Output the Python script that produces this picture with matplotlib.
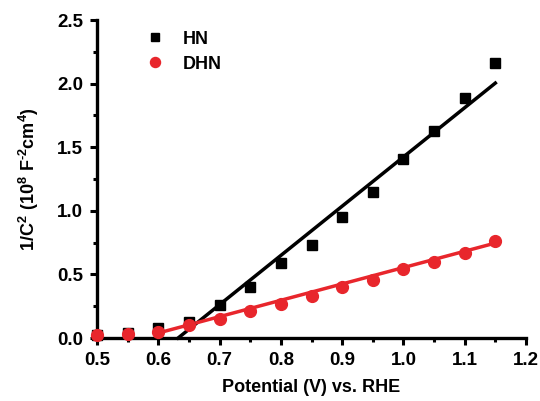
import numpy as np
import matplotlib.pyplot as plt
from matplotlib.ticker import MultipleLocator

plt.rcParams['font.family'] = ['Liberation Sans', 'DejaVu Sans']
plt.rcParams['font.weight'] = 'bold'
plt.rcParams['mathtext.fontset'] = 'custom'
plt.rcParams['mathtext.rm'] = 'Liberation Sans:bold'
plt.rcParams['mathtext.it'] = 'Liberation Sans:bold'
plt.rcParams['mathtext.bf'] = 'Liberation Sans:bold'

potential = [0.50, 0.55, 0.60, 0.65, 0.70, 0.75, 0.80, 0.85, 0.90, 0.95, 1.00, 1.05, 1.10, 1.15]
hn = [0.02, 0.04, 0.08, 0.13, 0.26, 0.40, 0.59, 0.73, 0.95, 1.15, 1.41, 1.63, 1.89, 2.16]
dhn = [0.02, 0.03, 0.05, 0.10, 0.15, 0.21, 0.27, 0.33, 0.40, 0.46, 0.54, 0.60, 0.67, 0.76]

# linear fits (slope, intercept) and the potential range each is drawn over
hn_fit = (3.87, -2.446)
hn_fit_range = [0.632, 1.15]
dhn_fit = (1.285, -0.731)
dhn_fit_range = [0.60, 1.15]

red = '#e8262c'

fig = plt.figure(figsize=(5.4, 4.01), dpi=100)
ax = fig.add_axes([0.18, 0.157, 0.794, 0.793])

xs1 = np.array(hn_fit_range)
ax.plot(xs1, np.polyval(hn_fit, xs1), color='black', lw=2.5, zorder=2, clip_on=False)
xs2 = np.array(dhn_fit_range)
ax.plot(xs2, np.polyval(dhn_fit, xs2), color=red, lw=2.5, zorder=2, clip_on=False)

ax.plot(potential, hn, 's', color='black', ms=7, label='HN', zorder=3, clip_on=False)
ax.plot(potential, dhn, 'o', color=red, ms=8.5, label='DHN', zorder=3, clip_on=False)

ax.set_xlim(0.5, 1.2)
ax.set_ylim(0.0, 2.5)
ax.xaxis.set_major_locator(MultipleLocator(0.1))
ax.xaxis.set_minor_locator(MultipleLocator(0.05))
ax.yaxis.set_major_locator(MultipleLocator(0.5))
ax.yaxis.set_minor_locator(MultipleLocator(0.25))
ax.xaxis.set_major_formatter(plt.FormatStrFormatter('%.1f'))
ax.yaxis.set_major_formatter(plt.FormatStrFormatter('%.1f'))

for s in ['top', 'right']:
    ax.spines[s].set_visible(False)
for s in ['left', 'bottom']:
    ax.spines[s].set_linewidth(2.4)
ax.tick_params(which='major', direction='out', length=5, width=2.2, labelsize=13.5, pad=5)
ax.tick_params(which='minor', direction='out', length=3, width=2.2)

ax.set_xlabel('Potential (V) vs. RHE', fontsize=13, fontweight='bold', labelpad=7)
ax.set_ylabel(r'$\mathbf{1/C^2\ (10^8\ F^{\text{-}2}cm^4)}$', fontsize=13, labelpad=12)

ax.legend(loc='upper left', bbox_to_anchor=(0.055, 1.018), frameon=False,
          fontsize=13, handletextpad=0.55, labelspacing=0.45, markerscale=0.85)

fig.savefig('out.png', dpi=100)
